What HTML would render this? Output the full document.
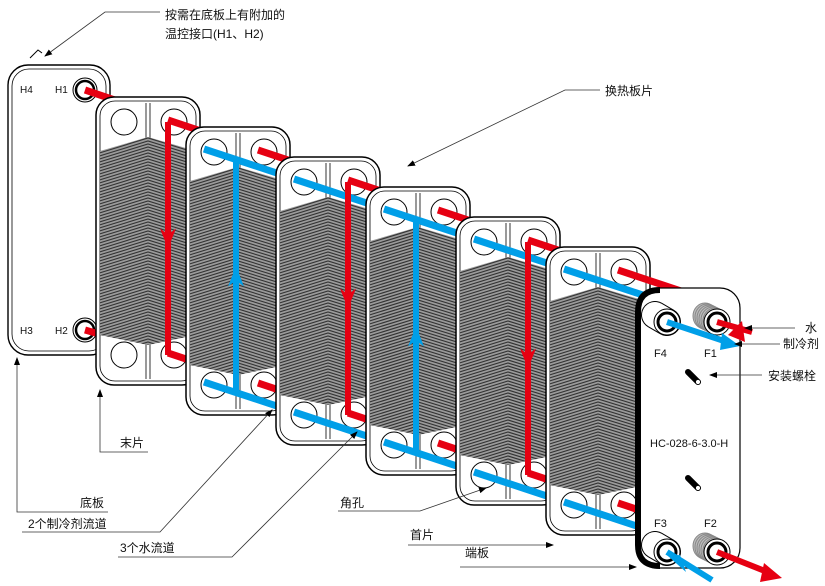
<!DOCTYPE html>
<html><head><meta charset="utf-8"><style>
html,body{margin:0;padding:0;background:#fff;}
svg{display:block;}
text{font-family:"Liberation Sans","Noto Sans CJK SC",sans-serif;font-size:12px;fill:#111;}
</style></head><body>
<svg id="s" width="825" height="586" viewBox="0 0 825 586" xmlns="http://www.w3.org/2000/svg">
<defs>
<marker id="ah" markerWidth="8" markerHeight="8" refX="7" refY="4" orient="auto" markerUnits="userSpaceOnUse"><path d="M0,1 L8,4 L0,7 Z" fill="#000"/></marker>
</defs>
<g id="g"></g>
<g fill="none" stroke="#333" stroke-width="0.8">
<polyline points="160,12 105,12 45,56" marker-end="url(#ah)"/>
<polyline points="600,90 565,90 408,166" marker-end="url(#ah)"/>
<polyline points="148,452 100,452 100,390" marker-end="url(#ah)"/>
<polyline points="108,512 17,512 17,358" marker-end="url(#ah)"/>
<polyline points="22,532 160,532 272,410" marker-end="url(#ah)"/>
<polyline points="118,557 232,557 357,432" marker-end="url(#ah)"/>
<polyline points="338,511 420,511 486,488" marker-end="url(#ah)"/>
<polyline points="408,545 553,545" marker-end="url(#ah)"/>
<polyline points="460,567 636,567" marker-end="url(#ah)"/>
<polyline points="795,328 745,328" marker-end="url(#ah)"/>
<polyline points="780,344 735,344" marker-end="url(#ah)"/>
<polyline points="762,375 710,375" marker-end="url(#ah)"/>
</g>
<text x="165" y="19">按需在底板上有附加的</text>
<text x="165" y="38">温控接口(H1、H2)</text>
<text x="605" y="95">换热板片</text>
<text x="120" y="447">末片</text>
<text x="80" y="507">底板</text>
<text x="28" y="528">2个制冷剂流道</text>
<text x="120" y="552">3个水流道</text>
<text x="340" y="507">角孔</text>
<text x="410" y="539">首片</text>
<text x="465" y="557">端板</text>
<text x="805" y="332">水</text>
<text x="783" y="348">制冷剂</text>
<text x="768" y="380">安装螺栓</text>
<text x="650" y="447" style="font-size:11px">HC-028-6-3.0-H</text>
<text x="654" y="357" style="font-size:11px">F4</text>
<text x="704" y="357" style="font-size:11px">F1</text>
<text x="654" y="527" style="font-size:11px">F3</text>
<text x="704" y="527" style="font-size:11px">F2</text>
<text x="20" y="93" style="font-size:10px">H4</text>
<text x="55" y="93" style="font-size:10px">H1</text>
<text x="20" y="334" style="font-size:10px">H3</text>
<text x="55" y="334" style="font-size:10px">H2</text>
</svg>
<script>
const NS="http://www.w3.org/2000/svg";
const g=document.getElementById('g');
function el(t,a,p){const e=document.createElementNS(NS,t);for(const k in a)e.setAttribute(k,a[k]);(p||g).appendChild(e);return e;}
const RED="#e60012",BLUE="#009fe8",W=104,H=288;
function line(x1,y1,x2,y2,c,w){el('line',{x1,y1,x2,y2,stroke:c,'stroke-width':w||7});}
function varrow(x,y1,y2,c,down){line(x,y1,x,y2,c,6);const m=(y1+y2)/2;
 if(down)el('path',{d:`M${x-8},${m-10} L${x},${m+10} L${x+8},${m-10} L${x},${m-4} Z`,fill:c});
 else el('path',{d:`M${x-8},${m+10} L${x},${m-10} L${x+8},${m+10} L${x},${m+4} Z`,fill:c});}
el('rect',{x:8,y:65,width:102,height:290,rx:20,fill:'#fff',stroke:'#000','stroke-width':1.4});
el('rect',{x:12,y:69,width:94,height:282,rx:17,fill:'none',stroke:'#000','stroke-width':0.8});
[[85,90],[85,330]].forEach(([cx,cy])=>{el('circle',{cx,cy,r:12,fill:'#fff',stroke:'#000','stroke-width':1});el('circle',{cx,cy,r:9,fill:'#fff',stroke:'#000','stroke-width':2.5});});
el('path',{d:'M30,58 l8,-8 l4,3',fill:'none',stroke:'#000','stroke-width':1});
function hole(cx,cy){el('circle',{cx,cy,r:13,fill:'#fff',stroke:'#000','stroke-width':1});}
function plate(i){const x=96+90*(i-1),y=97+30*(i-1);
 el('rect',{x,y,width:W,height:H,rx:18,fill:'#fff',stroke:'#000','stroke-width':1.5});
 el('rect',{x:x+4,y:y+4,width:W-8,height:H-8,rx:15,fill:'none',stroke:'#000','stroke-width':0.8});
 [[y+6,y+46],[y+H-46,y+H-6]].forEach(([a,b])=>{el('line',{x1:x+W/2-2,y1:a,x2:x+W/2-2,y2:b,stroke:'#000','stroke-width':0.8});el('line',{x1:x+W/2+2,y1:a,x2:x+W/2+2,y2:b,stroke:'#000','stroke-width':0.8});});
 const cid='c'+i;const cp=el('clipPath',{id:cid});
 el('polygon',{points:`${x+4},${y+54} ${x+W/2},${y+40} ${x+W-4},${y+54} ${x+W-4},${y+H-50} ${x+W/2},${y+H-40} ${x+4},${y+H-50}`},cp);
 const hg=el('g',{'clip-path':`url(#${cid})`});
 el('rect',{x,y,width:W,height:H,fill:'#9a9a9a'},hg);
 for(let k=y+20;k<y+H;k+=3){el('polyline',{points:`${x},${k+16} ${x+W/2},${k} ${x+W},${k+16}`,fill:'none',stroke:'#333','stroke-width':1.1},hg);}
 hole(x+28,y+25);hole(x+78,y+25);hole(x+28,y+H-30);hole(x+78,y+H-30);
 return [x,y];}
line(85,90,174,120,RED);line(85,330,174,355,RED);
const dx=90,dy=30;
for(let i=1;i<=6;i++){const [x,y]=plate(i);
 const rx=x+78,lx=x+28,ty=y+25,by=y+H-30;
 line(rx-6,ty-2,rx+dx,ty+dy,RED);line(rx-6,by-2,rx+dx,by+dy,RED);
 if(i>=2){line(lx-10,ty-3,lx+dx,ty+dy,BLUE);line(lx-10,by-3,lx+dx,by+dy,BLUE);}
 if(i==1||i==3||i==5)varrow(rx-6,ty,by,RED,true);
 else if(i==2||i==4)varrow(lx+22,ty+8,by+8,BLUE,false);
}
el('rect',{x:637,y:288,width:103,height:280,rx:20,fill:'#fff',stroke:'#000','stroke-width':1.2});
el('path',{d:'M660,290 Q638,290 638,312 L638,545 Q638,566 660,566',fill:'none',stroke:'#000','stroke-width':6});
function port(cx,cy,coil){
 if(coil){for(let k=0;k<6;k++)el('ellipse',{cx:cx-12+k*2,cy:cy-6+k,rx:12,ry:13,fill:'#bbb',stroke:'#888','stroke-width':1});}
 else{el('line',{x1:cx-12,y1:cy-7,x2:cx,y2:cy,stroke:'#000','stroke-width':28,'stroke-linecap':'round'});
  el('line',{x1:cx-12,y1:cy-7,x2:cx,y2:cy,stroke:'#fff','stroke-width':26,'stroke-linecap':'round'});}
 el('circle',{cx,cy,r:13,fill:'#fff',stroke:'#000','stroke-width':1});
 el('circle',{cx,cy,r:9,fill:'#fff',stroke:'#000','stroke-width':3});}
port(667,322,false);port(717,322,true);port(667,552,false);port(717,552,true);
line(667,322,727,342,BLUE,6);el('polygon',{points:'722,333 740,346 720,350',fill:BLUE});
line(717,322,752,332,RED,6);el('polygon',{points:'742,321 728,335 745,342',fill:RED});
line(717,552,770,573,RED,6);el('polygon',{points:'764,563 782,578 760,582',fill:RED});
line(667,552,712,580,BLUE,6);el('polygon',{points:'680,555 668,556 686,572',fill:BLUE});
[[688,372],[688,478]].forEach(([bx,by])=>{el('line',{x1:bx,y1:by,x2:bx+10,y2:by+10,stroke:'#000','stroke-width':6,'stroke-linecap':'round'});el('circle',{cx:bx+10,cy:by+10,r:2.5,fill:'#fff',stroke:'#000','stroke-width':0.8});});
</script>
</body></html>
